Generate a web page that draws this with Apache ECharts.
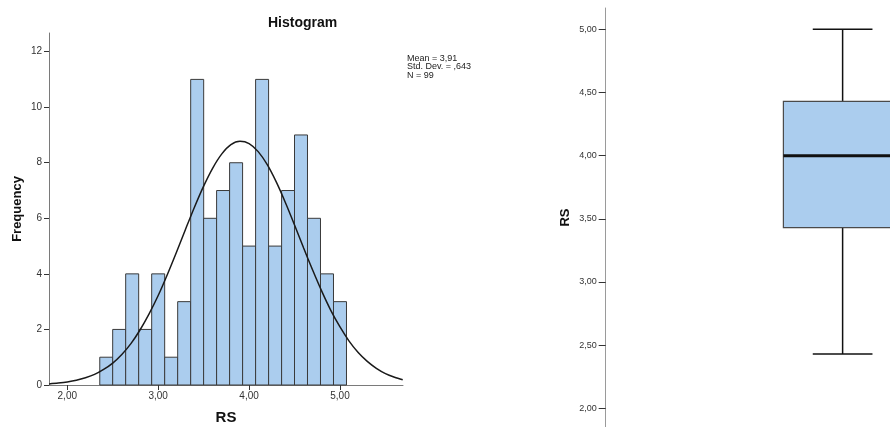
<!DOCTYPE html>
<html>
<head>
<meta charset="utf-8">
<title>RS – Histogram and Boxplot</title>
<script src="https://cdn.jsdelivr.net/npm/echarts@6/dist/echarts.min.js"></script>
<style>
  html, body { margin: 0; padding: 0; background: #ffffff; }
  #chart { width: 890px; height: 427px; }
</style>
</head>
<body>
<div id="chart"></div>
<script>
// RS scores: histogram bins (width 1/7) with their frequencies
const binCenters = [2.429, 2.571, 2.714, 2.857, 3.000, 3.143, 3.286, 3.429, 3.571, 3.714,
                    3.857, 4.000, 4.143, 4.286, 4.429, 4.571, 4.714, 4.857, 5.000];
const binCounts  = [1, 2, 4, 2, 4, 1, 3, 11, 6, 7, 8, 5, 11, 5, 7, 9, 6, 4, 3];
const binWidth = 0.1429;

// Fitted normal curve (Mean = 3,91, Std. Dev. = ,643, N = 99), in frequency units
const curveX = [1.8, 1.9, 2.0, 2.1, 2.2, 2.3, 2.4, 2.5, 2.6, 2.7, 2.8, 2.9, 3.0, 3.1,
                3.2, 3.3, 3.4, 3.5, 3.6, 3.7, 3.8, 3.9, 4.0, 4.1, 4.2, 4.3, 4.4, 4.5,
                4.6, 4.7, 4.8, 4.9, 5.0, 5.1, 5.2, 5.3, 5.4, 5.5, 5.6, 5.69];
const curveY = [0.04, 0.07, 0.11, 0.17, 0.26, 0.38, 0.56, 0.79, 1.10, 1.49, 1.98, 2.56, 3.22, 3.97,
                4.77, 5.60, 6.41, 7.16, 7.81, 8.32, 8.65, 8.77, 8.69, 8.40, 7.93, 7.30, 6.56, 5.76,
                4.93, 4.13, 3.37, 2.68, 2.09, 1.58, 1.17, 0.85, 0.60, 0.41, 0.28, 0.19];

// Summary statistics shown next to the histogram
const statLines = ['Mean = 3,91', 'Std. Dev. = ,643', 'N = 99'];

// Tick labels
const histXTicks = [2, 3, 4, 5];
const histYTicks = [0, 2, 4, 6, 8, 10, 12];
const boxYTicks  = [2.0, 2.5, 3.0, 3.5, 4.0, 4.5, 5.0];

// Boxplot five-number summary: [min, Q1, median, Q3, max]
const boxStats = [2.43, 3.43, 4.00, 4.43, 5.00];

const FONT = '"Liberation Sans", Arial, sans-serif';
const BAR_FILL = '#abcdee';
const fmtComma2 = v => v.toFixed(2).replace('.', ',');

const histBarData = binCenters.map((c, i) => [c - binWidth / 2, c + binWidth / 2, binCounts[i]]);
const curveData = curveX.map((x, i) => [x, curveY[i]]);

const chart = echarts.init(document.getElementById('chart'), null, { renderer: 'canvas' });

const axisLineStyle = { color: '#7a7a7a', width: 1 };
const tickStyle = { color: '#333333', width: 1 };

chart.setOption({
  animation: false,
  backgroundColor: '#ffffff',
  grid: [
    { left: 49, top: 33, width: 354, height: 352, outerBoundsMode: 'none' },
    { left: 605.7, top: 8, bottom: 0, right: 0, outerBoundsMode: 'none' }
  ],
  xAxis: [
    {
      gridIndex: 0, type: 'value', min: 1.799, max: 5.693,
      name: 'RS', nameLocation: 'middle', nameGap: 25,
      nameTextStyle: { fontFamily: FONT, fontWeight: 'bold', fontSize: 15, color: '#111' },
      axisLine: { show: true, onZero: false, lineStyle: axisLineStyle },
      axisTick: { show: true, length: 5, lineStyle: tickStyle, customValues: histXTicks },
      axisLabel: { fontFamily: FONT, fontSize: 10, color: '#333', margin: 6,
                   customValues: histXTicks, formatter: fmtComma2 },
      splitLine: { show: false }
    },
    {
      // horizontal frame of the boxplot; the box sits at 0.5, its panel runs past the right edge
      gridIndex: 1, type: 'value', min: 0, max: 0.6, show: false
    }
  ],
  yAxis: [
    {
      gridIndex: 0, type: 'value', min: 0, max: 12.67,
      name: 'Frequency', nameLocation: 'middle', nameGap: 25, nameRotate: 90,
      nameTextStyle: { fontFamily: FONT, fontWeight: 'bold', fontSize: 13, color: '#111' },
      axisLine: { show: true, lineStyle: axisLineStyle },
      axisTick: { show: true, length: 5, lineStyle: tickStyle, customValues: histYTicks },
      axisLabel: { fontFamily: FONT, fontSize: 10, color: '#333', margin: 7,
                   customValues: histYTicks },
      splitLine: { show: false }
    },
    {
      gridIndex: 1, type: 'value', min: 1.852, max: 5.169,
      name: 'RS', nameLocation: 'middle', nameGap: 34, nameRotate: 90,
      nameTextStyle: { fontFamily: FONT, fontWeight: 'bold', fontSize: 13, color: '#111' },
      axisLine: { show: true, lineStyle: { color: '#9a9a9a', width: 1 } },
      axisTick: { show: true, length: 7, lineStyle: tickStyle, customValues: boxYTicks },
      axisLabel: { fontFamily: FONT, fontSize: 9, color: '#333', margin: 9,
                   customValues: boxYTicks, formatter: fmtComma2 },
      splitLine: { show: false }
    }
  ],
  graphic: [
    {
      type: 'text', left: 268, top: 16,
      style: { text: 'Histogram', fontFamily: FONT, fontWeight: 'bold', fontSize: 14,
               fill: '#111', textAlign: 'center' }
    },
    {
      type: 'text', left: 407, top: 54,
      style: { text: statLines.join('\n'), fontFamily: FONT, fontSize: 9, lineHeight: 8.5,
               fill: '#222' }
    }
  ],
  series: [
    {
      type: 'custom', xAxisIndex: 0, yAxisIndex: 0, data: histBarData, clip: false,
      renderItem(params, api) {
        const p0 = api.coord([api.value(0), api.value(2)]);
        const p1 = api.coord([api.value(1), 0]);
        return {
          type: 'rect',
          shape: { x: p0[0], y: p0[1], width: p1[0] - p0[0], height: p1[1] - p0[1] },
          style: { fill: BAR_FILL, stroke: '#3a3a3a', lineWidth: 1 }
        };
      }
    },
    {
      type: 'line', xAxisIndex: 0, yAxisIndex: 0, data: curveData,
      smooth: 0.3, symbol: 'none',
      lineStyle: { color: '#1a1a1a', width: 1.5 }, z: 5
    },
    {
      type: 'custom', xAxisIndex: 1, yAxisIndex: 1, clip: false,
      data: [[0.5].concat(boxStats)],
      renderItem(params, api) {
        const cx = api.value(0);
        const boxHalf = 0.125, capHalf = 0.063;
        const pt = (dx, v) => api.coord([cx + dx, v]);
        const [lo, q1, med, q3, hi] = [1, 2, 3, 4, 5].map(d => api.value(d));
        const tl = pt(-boxHalf, q3), br = pt(boxHalf, q1);
        const line = (a, b, w) => ({
          type: 'line', shape: { x1: a[0], y1: a[1], x2: b[0], y2: b[1] },
          style: { stroke: '#111', lineWidth: w }
        });
        return {
          type: 'group',
          children: [
            line(pt(0, hi), pt(0, q3), 1.5),
            line(pt(0, q1), pt(0, lo), 1.5),
            line(pt(-capHalf, hi), pt(capHalf, hi), 1.5),
            line(pt(-capHalf, lo), pt(capHalf, lo), 1.5),
            {
              type: 'rect',
              shape: { x: tl[0], y: tl[1], width: br[0] - tl[0], height: br[1] - tl[1] },
              style: { fill: BAR_FILL, stroke: '#4a4a4a', lineWidth: 1.2 }
            },
            line(pt(-boxHalf, med), pt(boxHalf, med), 3)
          ]
        };
      }
    }
  ]
});
</script>
</body>
</html>
